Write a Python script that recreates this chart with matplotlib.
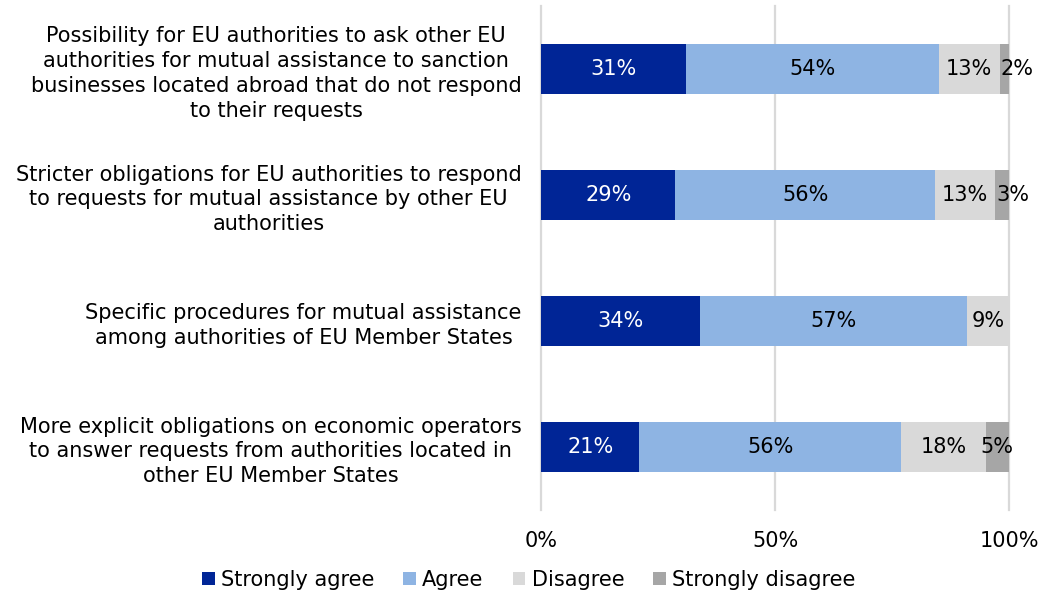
import matplotlib.pyplot as plt
import numpy as np

categories = [
    "Possibility for EU authorities to ask other EU\nauthorities for mutual assistance to sanction\nbusinesses located abroad that do not respond\nto their requests",
    "Stricter obligations for EU authorities to respond\nto requests for mutual assistance by other EU\nauthorities",
    "Specific procedures for mutual assistance\namong authorities of EU Member States",
    "More explicit obligations on economic operators\nto answer requests from authorities located in\nother EU Member States",
]
series_names = ["Strongly agree", "Agree", "Disagree", "Strongly disagree"]
strongly_agree = [31, 29, 34, 21]
agree = [54, 56, 57, 56]
disagree = [13, 13, 9, 18]
strongly_disagree = [2, 3, 0, 5]
x_ticks = [0, 50, 100]
x_tick_labels = ["0%", "50%", "100%"]

colors = ["#002596", "#8EB4E3", "#D9D9D9", "#A6A6A6"]
text_colors = ["white", "black", "black", "black"]
FS = 15

values = np.array([strongly_agree, agree, disagree, strongly_disagree], dtype=float)
totals = values.sum(axis=0)
shares = values / totals * 100  # each bar spans the full 100%

fig = plt.figure(figsize=(10.41, 5.95), dpi=100)
ax = fig.add_axes([0.5197, 0.1429, 0.4496, 0.8471])

y = np.arange(len(categories))
left = np.zeros(len(categories))
for i, name in enumerate(series_names):
    ax.barh(y, shares[i], left=left, height=0.4, color=colors[i], label=name,
            zorder=3)
    for j in range(len(categories)):
        v = values[i, j]
        if v <= 0:
            continue
        w = shares[i, j]
        if i == 3 and v < 4:
            ax.text(left[j] + 0.2, y[j], f"{v:.0f}%", ha="left", va="center",
                    fontsize=FS, color=text_colors[i], zorder=4)
        else:
            ax.text(left[j] + w / 2, y[j], f"{v:.0f}%", ha="center", va="center",
                    fontsize=FS, color=text_colors[i], zorder=4)
    left += shares[i]

ax.set_xlim(0, 100)
ax.set_ylim(len(categories) - 0.5, -0.5)
ax.set_yticks(y)
ax.set_yticklabels(categories, fontsize=FS, multialignment="center",
                   linespacing=1.3)
ax.set_xticks(x_ticks)
ax.set_xticklabels(x_tick_labels, fontsize=FS)
ax.tick_params(axis="y", length=0, pad=14)
ax.tick_params(axis="x", length=0, pad=15)
for s in ax.spines.values():
    s.set_visible(False)
ax.grid(axis="x", color="#D9D9D9", linewidth=1.6, zorder=0)
for gl in ax.get_xgridlines():
    gl.set_clip_on(False)
ax.set_axisbelow(True)

fig.legend(loc="center", bbox_to_anchor=(0.508, 0.025), ncol=4, frameon=False,
           fontsize=FS, handlelength=0.6, handleheight=0.6, handletextpad=0.3,
           columnspacing=1.4, borderaxespad=0)

fig.savefig("out.png", dpi=100, facecolor="white")
